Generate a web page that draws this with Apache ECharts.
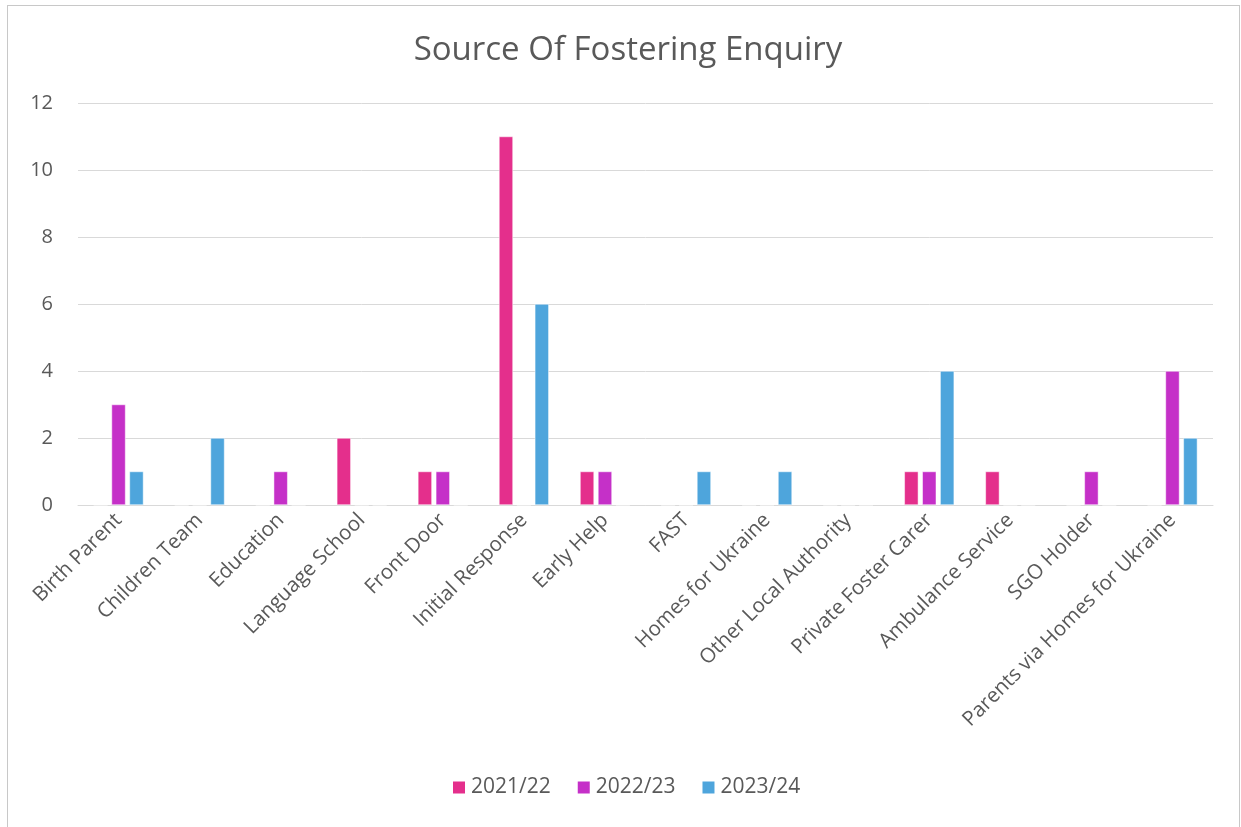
<!DOCTYPE html>
<html>
<head>
<meta charset="utf-8">
<script src="https://cdn.jsdelivr.net/npm/echarts@6/dist/echarts.min.js"></script>
<style>
html,body{margin:0;padding:0;background:#fff;}
#frame{position:absolute;left:7px;top:5px;width:1233px;height:830px;border:1px solid #c8c8c8;box-sizing:border-box;}
#chart{position:absolute;left:0;top:0;width:1241px;height:827px;}
</style>
</head>
<body>
<div id="frame"></div>
<div id="chart"></div>
<script>
const categories = ["Birth Parent","Children Team","Education","Language School","Front Door","Initial Response","Early Help","FAST","Homes for Ukraine","Other Local Authority","Private Foster Carer","Ambulance Service","SGO Holder","Parents via Homes for Ukraine"];
const s2021 = [0,0,0,2,1,11,1,0,0,0,1,1,0,0];
const s2022 = [3,0,1,0,1,0,1,0,0,0,1,0,1,4];
const s2023 = [1,2,0,0,0,6,0,1,1,0,4,0,0,2];
const seriesNames = ["2021/22","2022/23","2023/24"];
const colors = ["#E42F8C","#C530C8","#4EA5DC"];

const chart = echarts.init(document.getElementById('chart'));
const font = "'Open Sans', sans-serif";
chart.setOption({
  animation:false,
  title:{text:"Source Of Fostering Enquiry",left:623,top:29,textAlign:'center',
    textStyle:{fontFamily:font,fontSize:33,fontWeight:'normal',color:'#595959'}},
  legend:{bottom:24,left:446,itemWidth:14,itemHeight:14,itemGap:25,icon:'rect',
    textStyle:{fontFamily:font,fontSize:21,color:'#595959'},data:seriesNames},
  grid:{left:78,right:28,top:103,bottom:322},
  xAxis:{type:'category',data:categories,
    axisLine:{lineStyle:{color:'#d9d9d9',width:1}},axisTick:{show:false},
    axisLabel:{rotate:45,interval:0,fontFamily:font,fontSize:20.5,color:'#595959',margin:12}},
  yAxis:{type:'value',min:0,max:12,interval:2,
    axisLine:{show:false},axisTick:{show:false},
    splitLine:{lineStyle:{color:'#d9d9d9',width:1}},
    axisLabel:{fontFamily:font,fontSize:20,color:'#595959',margin:25}},
  series:[
    {name:seriesNames[0],type:'bar',data:s2021,barWidth:14,barGap:'28%',itemStyle:{color:colors[0],borderColor:'#fff',borderWidth:0.5}},
    {name:seriesNames[1],type:'bar',data:s2022,barWidth:14,barGap:'28%',itemStyle:{color:colors[1],borderColor:'#fff',borderWidth:0.5}},
    {name:seriesNames[2],type:'bar',data:s2023,barWidth:14,barGap:'28%',itemStyle:{color:colors[2],borderColor:'#fff',borderWidth:0.5}}
  ]
});
</script>
</body>
</html>
